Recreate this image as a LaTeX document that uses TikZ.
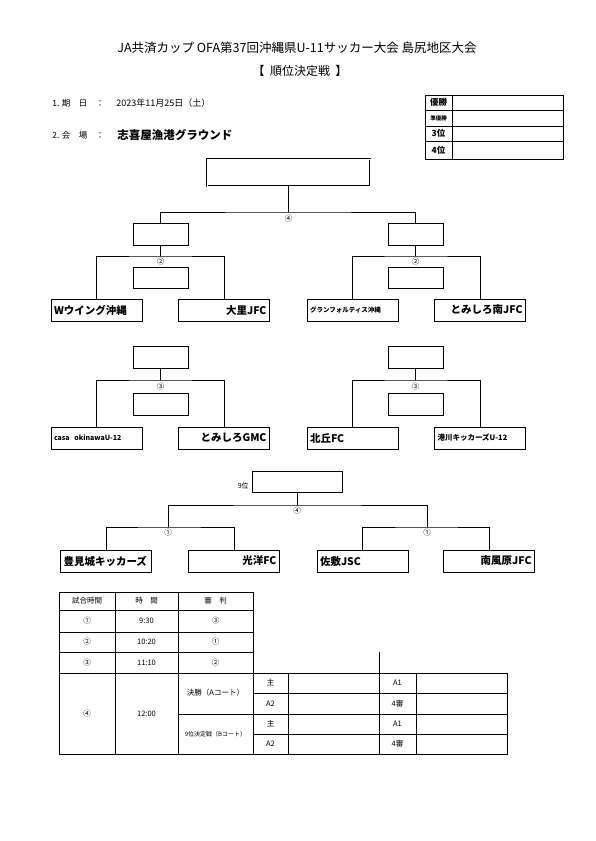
\documentclass[tikz,border=0pt]{standalone}
\usepackage{fontspec}
\setmainfont{Noto Sans CJK JP}
\usetikzlibrary{positioning}

\begin{document}
\begin{tikzpicture}[x=1pt,y=-1pt,line width=0.6pt,
  every node/.style={inner sep=0pt},
  slot/.style={draw, minimum width=55, minimum height=22},
  team/.style={draw, minimum height=22, text width=85, inner sep=3, font=\bfseries\fontsize{10.5}{11}\selectfont},
  teamL/.style={team, align=left},
  teamR/.style={team, align=right},
  rnd/.style={font=\fontsize{7.5}{8}\selectfont},
  cell/.style={font=\fontsize{7.5}{8}\selectfont}]
  \useasboundingbox (0,0) rectangle (595,841);

  % heading
  \node (title) at (297,48) {\fontsize{12.5}{13}\selectfont JA共済カップ OFA第37回沖縄県U-11サッカー大会 島尻地区大会};
  \node (sub) at (300,71) {\fontsize{12}{13}\selectfont 【\ \ 順位決定戦\ \ 】};
  \node[anchor=west] (dateL) at (52,103) {\fontsize{8.5}{9}\selectfont 1. 期\quad 日\quad ：};
  \node[anchor=west] (date) at (116,103) {\fontsize{9}{9}\selectfont 2023年11月25日（土）};
  \node[anchor=west] (venueL) at (52,135) {\fontsize{8.5}{9}\selectfont 2. 会\quad 場\quad ：};
  \node[anchor=west] (venue) at (117,135) {\bfseries\fontsize{11.5}{12}\selectfont 志喜屋漁港グラウンド};

  % ranking table
  \draw (425,95) rectangle (563,159);
  \draw (452,95) -- (452,159);
  \foreach \yy in {110,126,141} \draw (425,\yy) -- (563,\yy);
  \node[font=\bfseries\fontsize{8.5}{9}\selectfont] (p1) at (438.5,102.5) {優勝};
  \node[font=\bfseries\fontsize{5.5}{6}\selectfont] (p2) at (438.5,118) {準優勝};
  \node[font=\bfseries\fontsize{8.5}{9}\selectfont] (p3) at (438.5,133.5) {3位};
  \node[font=\bfseries\fontsize{8.5}{9}\selectfont] (p4) at (438.5,150) {4位};

  % upper bracket
  \node[draw, double, double distance=1pt, minimum width=163, minimum height=27] (final) at (288.5,172.5) {};
  \node[slot] (sfL) at (160.5,234) {};
  \node[slot] (sfR) at (415.5,234) {};
  \node[slot, minimum height=21] (scL) at (160.5,277.5) {};
  \node[slot, minimum height=21] (scR) at (415.5,277.5) {};
  \node[teamL] (t1) at (96.5,310) {Wウイング沖縄};
  \node[teamR] (t2) at (224,310) {大里JFC};
  \node[teamL, font=\bfseries\fontsize{6.5}{7}\selectfont] (t3) at (352.5,310) {グランフォルティス沖縄};
  \node[teamR] (t4) at (480,310) {とみしろ南JFC};
  \coordinate (j1) at (288.5,212);
  \coordinate (j2L) at (160.5,256);
  \coordinate (j2R) at (415.5,256);
  \draw (final.south) -- (j1);
  \draw (sfL.north) |- (j1) -| (sfR.north);
  \draw (sfL.south) -- (j2L);
  \draw (sfR.south) -- (j2R);
  \draw (t1.north) |- (j2L) -| (t2.north);
  \draw (t3.north) |- (j2R) -| (t4.north);
  \node[rnd] (r1) at (288.5,219) {④};
  \node[rnd] (r2L) at (160.5,262) {②};
  \node[rnd] (r2R) at (415.5,262) {②};

  % middle bracket
  \node[slot] (qL) at (160.5,357) {};
  \node[slot] (qR) at (415.5,357) {};
  \node[slot] (sqL) at (160.5,404) {};
  \node[slot] (sqR) at (415.5,404) {};
  \node[teamL, font=\bfseries\fontsize{7}{7}\selectfont] (t5) at (96.5,438) {casa\ \ okinawaU-12};
  \node[teamR] (t6) at (224,438) {とみしろGMC};
  \node[teamL] (t7) at (352.5,438) {北丘FC};
  \node[teamL, font=\bfseries\fontsize{7.5}{8}\selectfont] (t8) at (480,438) {港川キッカーズU-12};
  \coordinate (j3L) at (160.5,380);
  \coordinate (j3R) at (415.5,380);
  \draw (qL.south) -- (j3L);
  \draw (qR.south) -- (j3R);
  \draw (t5.north) |- (j3L) -| (t6.north);
  \draw (t7.north) |- (j3R) -| (t8.north);
  \node[rnd] (r3L) at (160.5,387) {③};
  \node[rnd] (r3R) at (415.5,387) {③};

  % lower bracket
  \node[draw, minimum width=90, minimum height=21] (ninth) at (297,481.5) {};
  \node[anchor=east, font=\fontsize{7}{7}\selectfont] (ninthL) at (249,486) {9位};
  \node[teamL] (b1) at (106,561) {豊見城キッカーズ};
  \node[teamR] (b2) at (234,561) {光洋FC};
  \node[teamL] (b3) at (362.5,561) {佐敷JSC};
  \node[teamR] (b4) at (489,561) {南風原JFC};
  \coordinate (j9) at (297,505);
  \coordinate (m1L) at (168,527);
  \coordinate (m1R) at (427,527);
  \draw (ninth.south) -- (j9);
  \draw (m1L) |- (j9) -| (m1R);
  \draw (b1.north) |- (m1L) -| (b2.north);
  \draw (b3.north) |- (m1R) -| (b4.north);
  \node[rnd] (r9) at (297,511) {④};
  \node[rnd] (r1L) at (168,533) {①};
  \node[rnd] (r1R) at (427,533) {①};

  % time table
  \draw (59,592) rectangle (253,754);
  \foreach \yy in {610,632,652,673} \draw (59,\yy) -- (253,\yy);
  \foreach \xx in {115,178} \draw (\xx,592) -- (\xx,754);
  \draw (178,714) -- (507,714);
  \draw (253,673) rectangle (507,754);
  \foreach \yy in {693,734} \draw (253,\yy) -- (507,\yy);
  \foreach \xx in {288,416} \draw (\xx,673) -- (\xx,754);
  \draw (379,652) -- (379,754);
  \node[cell] (h1) at (87,601) {試合時間};
  \node[cell] (h2) at (146.5,601) {時\quad 間};
  \node[cell] (h3) at (215.5,601) {審\quad 判};
  \foreach \g/\t/\j/\yy [count=\i] in {①/9:30/③/621, ②/10:20/①/642, ③/11:10/②/662.5} {
    \node[cell] (g\i) at (87,\yy) {\g};
    \node[cell] (k\i) at (146.5,\yy) {\t};
    \node[cell] (u\i) at (215.5,\yy) {\j};
  }
  \node[cell] (g4) at (87,713.5) {④};
  \node[cell] (k4) at (146.5,713.5) {12:00};
  \node[cell] (fa) at (215.5,693) {決勝（Aコート）};
  \node[cell, font=\fontsize{6}{6}\selectfont] (fb) at (215.5,734) {9位決定戦（Bコート）};
  \foreach \yy/\a/\b [count=\i] in {683/主/A1, 703.5/A2/4審, 724/主/A1, 744/A2/4審} {
    \node[cell] (ra\i) at (270.5,\yy) {\a};
    \node[cell] (rb\i) at (397.5,\yy) {\b};
  }
\end{tikzpicture}
\end{document}
